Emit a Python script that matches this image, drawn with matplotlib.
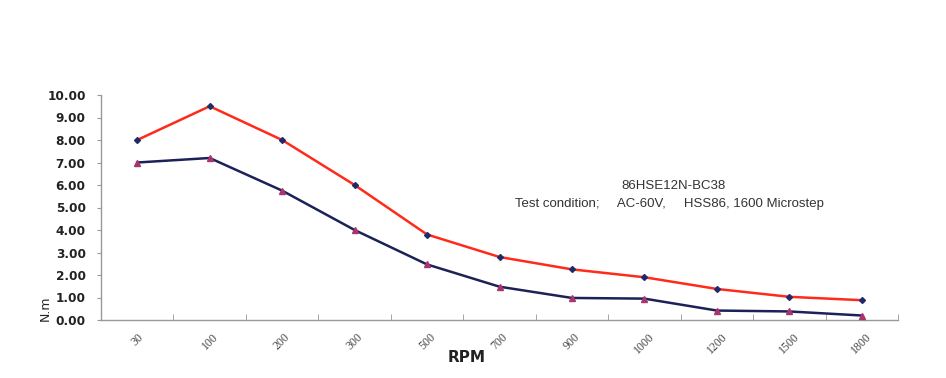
import matplotlib
matplotlib.use("Agg")
import matplotlib.pyplot as plt
import numpy as np

categories = ["30", "100", "200", "300", "500", "700", "900", "1000", "1200", "1500", "1800"]
red_series = [8.0, 9.5, 8.0, 6.0, 3.8, 2.8, 2.25, 1.9, 1.38, 1.03, 0.88]
blue_series = [7.0, 7.2, 5.75, 4.0, 2.47, 1.48, 0.98, 0.95, 0.42, 0.38, 0.2]
y_ticks = [0, 1, 2, 3, 4, 5, 6, 7, 8, 9, 10]

fig = plt.figure(figsize=(9.46, 3.78), dpi=100)
ax = fig.add_axes([101/946, 1 - 320/378, (898-101)/946, (320-95)/378])

x = np.arange(len(categories))
ax.plot(x, red_series, color="#ff2a1a", lw=1.8, marker="D", ms=3,
        mfc="#1f2a6a", mec="#1f2a6a", zorder=3)
ax.plot(x, blue_series, color="#1c2258", lw=1.8, marker="^", ms=4.5,
        mfc="#a8356e", mec="#a8356e", zorder=3)

ax.set_xlim(-0.5, len(categories) - 0.5)
ax.set_ylim(0, 10)
ax.set_yticks(y_ticks)
ax.set_yticklabels([f"{v:.2f}" for v in y_ticks], fontsize=8.7, fontweight="semibold",
                   color="#222222")
ax.set_xticks(x)
ax.set_xticklabels(categories, rotation=45, family="Liberation Serif", fontsize=8.5,
                   color="#444444", ha="center", va="top")
ax.tick_params(axis="x", which="major", length=0, pad=8)
ax.set_xticks(np.arange(-0.5, len(categories)), minor=True)
ax.tick_params(axis="x", which="minor", length=4, direction="in", color="#999999")
ax.tick_params(axis="y", length=3, color="#999999", pad=8)

for s in ["top", "right"]:
    ax.spines[s].set_visible(False)
for s in ["left", "bottom"]:
    ax.spines[s].set_color("#999999")
    ax.spines[s].set_linewidth(1.0)

fig.text(45/946, 1 - 308/378, "N.m", rotation=90, ha="center", va="center",
         fontsize=9, color="#222222")
fig.text(467/946, 1 - 358/378, "RPM", ha="center", va="center",
         fontsize=11, fontweight="bold", color="#222222")

fig.text(674/946, 1 - 186/378, "86HSE12N-BC38", ha="center", va="center",
         fontsize=9.5, family="Liberation Sans", color="#333333")
fig.text(515/946, 1 - 204/378, "Test condition;     AC-60V,     HSS86, 1600 Microstep",
         ha="left", va="center", fontsize=9.5, family="Liberation Sans", color="#333333")

fig.savefig("out.png", dpi=100)
